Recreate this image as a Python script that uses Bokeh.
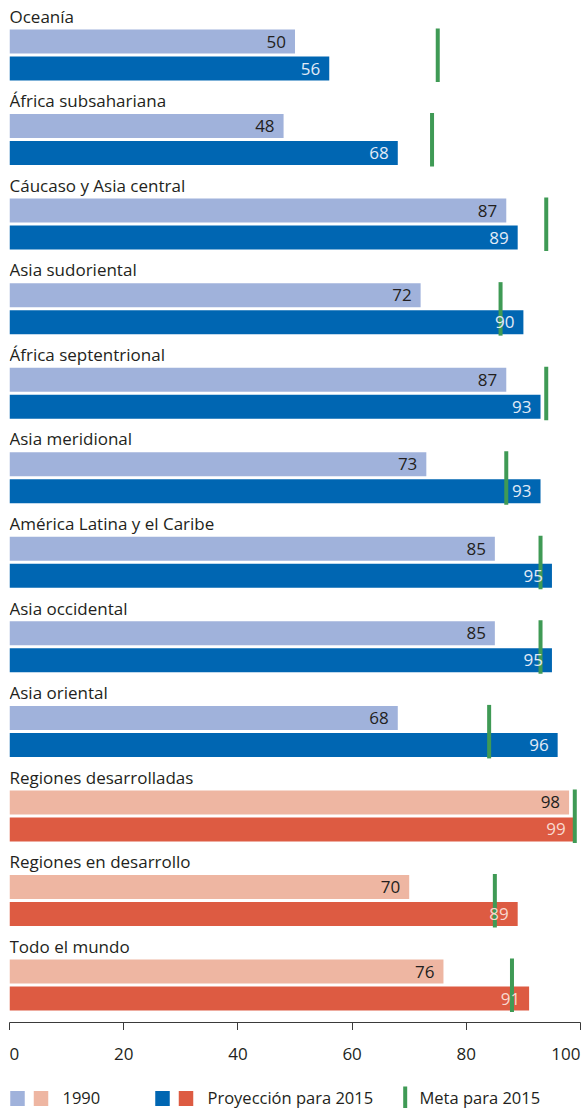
from bokeh.plotting import figure
from bokeh.layouts import column
from bokeh.models import Range1d, FixedTicker, ColumnDataSource
from bokeh.core.properties import value
from bokeh.embed import file_html
from bokeh.resources import INLINE

# ---------------- data ----------------
regions = ["Oceanía", "África subsahariana", "Cáucaso y Asia central",
           "Asia sudoriental", "África septentrional", "Asia meridional",
           "América Latina y el Caribe", "Asia occidental", "Asia oriental",
           "Regiones desarrolladas", "Regiones en desarrollo", "Todo el mundo"]
v1990 = [50, 48, 87, 72, 87, 73, 85, 85, 68, 98, 70, 76]
v2015 = [56, 68, 89, 90, 93, 93, 95, 95, 96, 99, 89, 91]
meta2015 = [75, 74, 94, 86, 94, 87, 93, 93, 84, 99, 85, 88]
is_aggregate = [False] * 9 + [True] * 3
x_ticks = [0, 20, 40, 60, 80, 100]
legend_labels = ["1990", "Proyección para 2015", "Meta para 2015"]

# ---------------- styles / layout ----------------
FONT = "Open Sans"
FS = "17px"
TXT = "#231f20"
C_LIGHT_BLUE = "#a0b2db"
C_DARK_BLUE = "#0066b2"
C_LIGHT_RED = "#eeb6a2"
C_DARK_RED = "#dd5b42"
C_GREEN = "#3f9a55"
C_TXT_ON_BLUE = "#e2ebf7"
C_TXT_ON_RED = "#f8d8cf"

W = 582
BORDER_L, BORDER_R = 9, 2
FRAME_W = W - BORDER_L - BORDER_R
FRAME_H1 = 1022
AXIS_H = 8
H1 = FRAME_H1 + AXIS_H
H2 = 1108 - H1

PITCH = 84.55
TOP0 = 29.0      # top of first light bar (px)
BAR_H = 24
GAP = 3

n = len(regions)
light_top = [TOP0 + i * PITCH for i in range(n)]
light_c = [t + BAR_H / 2 for t in light_top]
dark_c = [t + BAR_H + GAP + BAR_H / 2 for t in light_top]
title_y = [t - 13.3 for t in light_top]
meta_y0 = [t - 1 for t in light_top]
meta_y1 = [t + 2 * BAR_H + GAP + 1.5 for t in light_top]

col_light = [C_LIGHT_RED if a else C_LIGHT_BLUE for a in is_aggregate]
col_dark = [C_DARK_RED if a else C_DARK_BLUE for a in is_aggregate]
col_dark_txt = [C_TXT_ON_RED if a else C_TXT_ON_BLUE for a in is_aggregate]

src = ColumnDataSource(dict(
    region=regions, v1990=v1990, v2015=v2015, meta=meta2015,
    lc=light_c, dc=dark_c, ty=title_y, my0=meta_y0, my1=meta_y1,
    col_light=col_light, col_dark=col_dark, col_dark_txt=col_dark_txt,
    zero=[0] * n,
    l1990=[str(v) for v in v1990], l2015=[str(v) for v in v2015],
))

# ---------------- main figure ----------------
p = figure(width=W, height=H1, x_range=Range1d(0, 100), y_range=Range1d(FRAME_H1, 0),
           output_backend="svg", toolbar_location=None, y_axis_location=None,
           min_border_left=BORDER_L, min_border_right=BORDER_R,
           min_border_top=0, min_border_bottom=AXIS_H)
p.outline_line_color = None
p.xgrid.visible = False
p.ygrid.visible = False
p.background_fill_color = "white"
p.border_fill_color = "white"

ax = p.xaxis[0]
ax.ticker = FixedTicker(ticks=x_ticks)
ax.major_tick_out = 8
ax.major_tick_in = 0
ax.minor_tick_line_color = None
ax.axis_line_color = "#3a3a3a"
ax.major_tick_line_color = "#3a3a3a"
ax.major_label_text_color = None
ax.major_label_text_font_size = "1px"
ax.major_label_standoff = 0

p.hbar(y="lc", left="zero", right="v1990", height=BAR_H, fill_color="col_light",
       line_color=None, source=src)
p.hbar(y="dc", left="zero", right="v2015", height=BAR_H, fill_color="col_dark",
       line_color=None, source=src)
p.segment(x0="meta", x1="meta", y0="my0", y1="my1", line_color=C_GREEN,
          line_width=4, line_cap="butt", source=src)

p.text(x="zero", y="ty", text="region", text_font=value(FONT), text_font_size=FS,
       text_color=TXT, text_baseline="alphabetic", text_align="left", source=src)
p.text(x="v1990", y="lc", text="l1990", text_font=value(FONT), text_font_size=FS,
       text_color=TXT, text_baseline="middle", text_align="right", x_offset=-9,
       source=src)
p.text(x="v2015", y="dc", text="l2015", text_font=value(FONT), text_font_size=FS,
       text_color="col_dark_txt", text_baseline="middle", text_align="right",
       x_offset=-9, source=src)

# ---------------- tick labels + legend ----------------
q = figure(width=W, height=H2, x_range=p.x_range, y_range=Range1d(H2, 0),
           output_backend="svg", toolbar_location=None,
           x_axis_location=None, y_axis_location=None,
           min_border_left=BORDER_L, min_border_right=BORDER_R,
           min_border_top=0, min_border_bottom=0)
q.outline_line_color = None
q.xgrid.visible = False
q.ygrid.visible = False

TICK_Y = 23
tick_txt = [str(t) for t in x_ticks]
q.text(x=x_ticks[:1], y=[TICK_Y], text=tick_txt[:1], text_font=value(FONT),
       text_font_size=FS, text_color=TXT, text_baseline="middle", text_align="left")
q.text(x=x_ticks[1:-1], y=[TICK_Y] * (len(x_ticks) - 2), text=tick_txt[1:-1],
       text_font=value(FONT), text_font_size=FS, text_color=TXT,
       text_baseline="middle", text_align="center")
q.text(x=x_ticks[-1:], y=[TICK_Y], text=tick_txt[-1:], text_font=value(FONT),
       text_font_size=FS, text_color=TXT, text_baseline="middle", text_align="right")


def px(v):
    return (v - BORDER_L) * 100.0 / FRAME_W


LEG_Y = 67
sq_x = [px(17), px(40.5), px(162), px(185.5)]
sq_c = [C_LIGHT_BLUE, C_LIGHT_RED, C_DARK_BLUE, C_DARK_RED]
q.rect(x=sq_x, y=[LEG_Y + 1] * 4, width=14.5, height=15, width_units="screen",
       height_units="screen", fill_color=sq_c, line_color=None)
q.segment(x0=[px(404.7)], x1=[px(404.7)], y0=[LEG_Y - 11], y1=[H2],
          line_color=C_GREEN, line_width=4, line_cap="butt")
q.text(x=[px(62), px(207), px(419)], y=[LEG_Y] * 3, text=legend_labels,
       text_font=value(FONT), text_font_size="16.5px", text_color=TXT,
       text_baseline="middle", text_align="left")

layout = column(p, q, spacing=0)
open("out.html", "w").write(file_html(layout, INLINE))
